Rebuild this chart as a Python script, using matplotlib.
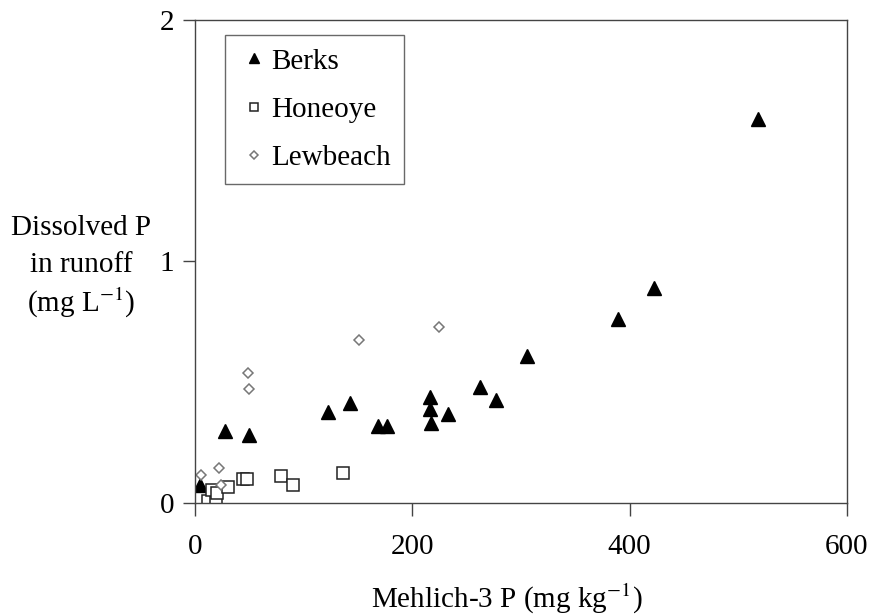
import matplotlib.pyplot as plt

# Mehlich-3 P (mg/kg) vs dissolved P in runoff (mg/L)
berks_x = [5, 28, 50, 122, 143, 168, 177, 216, 216, 217, 233, 262, 277, 306, 389, 422, 518]
berks_y = [0.075, 0.30, 0.28, 0.375, 0.415, 0.32, 0.32, 0.44, 0.39, 0.33, 0.37, 0.48, 0.425, 0.61, 0.76, 0.89, 1.59]

honeoye_x = [12, 19, 16, 20, 30, 44, 48, 79, 90, 136]
honeoye_y = [0.01, 0.005, 0.055, 0.04, 0.067, 0.10, 0.10, 0.11, 0.075, 0.125]

lewbeach_x = [6, 22, 24, 49, 50, 151, 225]
lewbeach_y = [0.115, 0.145, 0.075, 0.54, 0.47, 0.675, 0.73]

ylabel_lines = ['Dissolved P', 'in runoff', '(mg L$^{-1}$)']

plt.rcParams['font.family'] = ['Liberation Serif', 'DejaVu Serif']
plt.rcParams['mathtext.fontset'] = 'stix'

FS = 21

fig = plt.figure(figsize=(8.72, 6.15), dpi=100)
ax = fig.add_axes([0.2236, 0.1821, 0.9713 - 0.2236, 0.9675 - 0.1821])

ax.plot(berks_x, berks_y, linestyle='none', marker='^', ms=10, color='black', label='Berks')
ax.plot(honeoye_x, honeoye_y, linestyle='none', marker='s', ms=8.5, mfc='white',
        mec='#222222', mew=1.1, label='Honeoye')
ax.plot(lewbeach_x, lewbeach_y, linestyle='none', marker='D', ms=5.2, mfc='white',
        mec='#777777', mew=1.1, label='Lewbeach')

ax.set_xlim(0, 600)
ax.set_ylim(0, 2)
ax.set_xticks([0, 200, 400, 600])
ax.set_yticks([0, 1, 2])
ax.tick_params(direction='out', length=9, width=1, colors='#444444', labelcolor='black',
               labelsize=FS)
ax.tick_params(axis='x', pad=13)
ax.tick_params(axis='y', pad=6)
for s in ax.spines.values():
    s.set_color('#444444')
    s.set_linewidth(1)

fig.text(0.581, 0.026, 'Mehlich-3 P (mg kg$^{-1}$)', fontsize=FS, ha='center', va='center')

# y label is horizontal, three centred lines left of the axis
for i, line in enumerate(ylabel_lines):
    fig.text(0.093, 0.630 - i * 0.061, line, fontsize=FS, ha='center', va='center')

leg = ax.legend(loc='upper left', bbox_to_anchor=(0.046, 0.969), borderaxespad=0,
                fontsize=FS, markerscale=0.7, fancybox=False, edgecolor='#444444',
                handlelength=1.1, handletextpad=0.05, labelspacing=0.75,
                borderpad=0.45)
leg.get_frame().set_linewidth(1)

fig.savefig('out.png', dpi=100)
